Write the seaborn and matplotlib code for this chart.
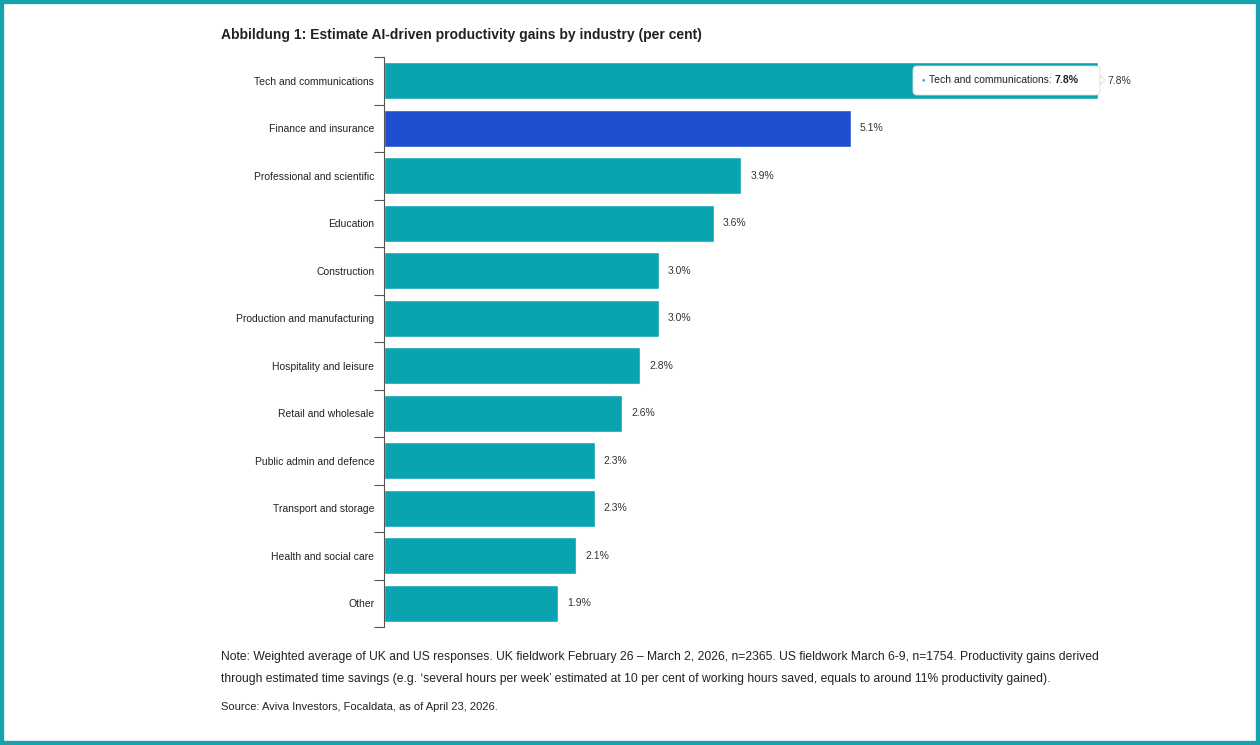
import numpy as np
import pandas as pd
import seaborn as sns
import matplotlib.pyplot as plt
from matplotlib.patches import FancyBboxPatch, Rectangle, Polygon

industries = ['Tech and communications', 'Finance and insurance', 'Professional and scientific',
              'Education', 'Construction', 'Production and manufacturing', 'Hospitality and leisure',
              'Retail and wholesale', 'Public admin and defence', 'Transport and storage',
              'Health and social care', 'Other']
gains = [7.8, 5.1, 3.9, 3.6, 3.0, 3.0, 2.8, 2.6, 2.3, 2.3, 2.1, 1.9]
highlight = 'Finance and insurance'

teal = '#0aa3b0'
blue = '#1f4fd0'

sns.set_style('white')
plt.rcParams['font.family'] = ['Liberation Sans', 'DejaVu Sans']

df = pd.DataFrame({'industry': industries, 'gain': gains})
palette = {k: (blue if k == highlight else teal) for k in industries}

fig = plt.figure(figsize=(12.6, 7.45), dpi=100)
ax = fig.add_axes([384/1260, 1-627/745, 769/1260, 570/745])
sns.barplot(data=df, x='gain', y='industry', hue='industry', palette=palette,
            order=industries, width=0.78, legend=False, saturation=1, ax=ax)

ax.set_xlim(0, 8.4)
ax.set_ylim(len(industries)-0.5, -0.5)
ax.set_xlabel('')
ax.set_ylabel('')
ax.set_xticks([])
sns.despine(ax=ax, left=False, bottom=True, top=True, right=True)
ax.spines['left'].set_color('#555555')
ax.spines['left'].set_linewidth(0.8)
ax.set_yticks(np.arange(len(industries)+1)-0.5, minor=True)
ax.tick_params(axis='y', which='minor', length=7, width=0.8, color='#555555', left=True)
ax.tick_params(axis='y', which='major', length=0, pad=7, labelsize=7.5, labelcolor='#222222')

for i, v in enumerate(gains):
    ax.text(v + 0.1, i, f'{v:.1f}%', va='center', ha='left', fontsize=7.5, color='#333333')

# tooltip on the top bar
tip = FancyBboxPatch((913, 745-95), 187, 29, boxstyle='round,pad=0,rounding_size=4',
                     transform=None, facecolor='white', edgecolor='#dddddd', linewidth=0.6,
                     zorder=5)
fig.patches.append(tip)
fig.patches.append(Polygon([(1100, 745-75), (1105, 745-80), (1100, 745-85)], closed=True,
                           transform=None, facecolor='white', edgecolor='#dddddd',
                           linewidth=0.6, zorder=5))
fig.text(921/1260, 1-80/745, '\u25cf', color=teal, fontsize=4, va='center', ha='left', zorder=6)
t1 = fig.text(929/1260, 1-80/745, f'{industries[0]}: ', fontsize=7.5, color='#222222',
              va='center', ha='left', zorder=6)
fig.canvas.draw()
bb = t1.get_window_extent()
fig.text(bb.x1/1260, 1-80/745, f'{gains[0]:.1f}%', fontsize=7.5, color='#222222',
         va='center', ha='left', fontweight='bold', zorder=6)

fig.text(221/1260, 1-35/745, 'Abbildung 1: Estimate AI-driven productivity gains by industry (per cent)',
         fontsize=10, fontweight='bold', color='#222222', va='center', ha='left')

note_font = ['Liberation Sans', 'DejaVu Sans']
fig.text(221/1260, 1-657/745,
         'Note: Weighted average of UK and US responses. UK fieldwork February 26 \u2013 March 2, 2026, n=2365. '
         'US fieldwork March 6-9, n=1754. Productivity gains derived',
         fontsize=8.7, family=note_font, color='#222222', va='center', ha='left')
fig.text(221/1260, 1-679/745,
         'through estimated time savings (e.g. \u2018several hours per week\u2019 estimated at 10 per cent of '
         'working hours saved, equals to around 11% productivity gained).',
         fontsize=8.7, family=note_font, color='#222222', va='center', ha='left')
fig.text(221/1260, 1-707/745, 'Source: Aviva Investors, Focaldata, as of April 23, 2026.',
         fontsize=8, family=note_font, color='#222222', va='center', ha='left')

# outer teal frame
fig.patches.append(Rectangle((0, 0), 1, 1, transform=fig.transFigure, fill=False,
                             edgecolor='#18a2ad', linewidth=6))

fig.savefig('out.png', dpi=100)
